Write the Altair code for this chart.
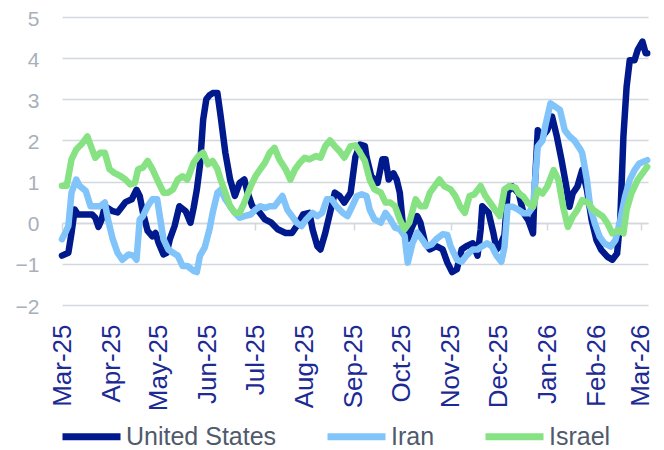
import altair as alt
import pandas as pd

series_names = ["United States", "Iran", "Israel"]
series_colors = ["#00198c", "#80c4fa", "#86e283"]

# day offsets from 2025-03-01 and values
us_days = [0,4,6,8,10,19,21,23,25,27,32,35,40,44,47,49,51,54,57,59,61,64,66,68,71,74,78,81,83,85,
           87,89,91,93,95,98,100,103,106,109,112,115,117,120,124,128,132,136,141,145,148,152,156,158,161,
           163,166,169,172,175,178,182,185,188,191,192,195,199,202,204,206,209,211,213,215,218,221,224,226,229,
           232,236,240,243,246,249,252,255,259,262,264,265,269,272,274,276,279,281,284,288,291,294,297,298,300,
           303,306,309,312,315,318,320,322,325,328,331,334,337,340,344,347,350,352,354,356,358,361,363,366,368,369]
us_vals = [-0.8,-0.73,-0.25,0.32,0.2,0.2,0.12,-0.1,0.08,0.4,0.28,0.25,0.5,0.57,0.8,0.65,0.25,-0.2,-0.33,-0.25,
           -0.5,-0.77,-0.73,-0.4,-0.08,0.4,0.28,0.0,0.36,0.8,1.4,2.5,3.0,3.1,3.15,3.15,2.6,1.7,1.05,0.65,
           0.97,1.05,0.73,0.4,0.28,0.08,0.0,-0.16,-0.25,-0.25,-0.08,0.2,0.24,-0.16,-0.57,-0.65,-0.25,0.24,0.73,0.65,
           0.49,0.73,1.6,1.9,1.86,1.6,1.13,0.97,1.54,1.54,1.05,1.2,1.05,0.73,-0.08,-0.4,-0.08,0.16,0.0,-0.5,
           -0.65,-0.57,-0.65,-0.97,-1.2,-1.13,-0.65,-0.57,-0.5,-0.8,-0.16,0.4,0.24,-0.25,-0.65,-0.57,-0.3,0.75,0.88,0.71,
           0.23,0.06,-0.26,0.8,2.25,2.1,2.25,2.58,2.1,1.52,0.88,0.39,0.71,0.88,1.28,0.8,0.06,-0.42,-0.66,-0.83,
           -0.9,-0.75,0.06,2.1,3.3,3.95,3.95,4.2,4.4,4.12,4.12]

iran_days = [0,2,4,6,9,11,15,18,24,27,29,32,35,38,42,45,47,49,51,54,57,60,62,64,67,70,73,76,79,83,
             85,87,90,93,95,98,100,103,106,109,112,115,119,122,125,128,131,134,139,142,145,148,151,154,158,
             161,164,167,170,173,177,180,183,186,189,192,194,197,201,204,207,210,213,216,218,221,224,227,230,233,
             236,240,243,245,249,252,255,259,262,265,268,271,274,277,279,281,284,288,291,294,297,300,303,305,308,
             311,314,317,320,323,327,328,331,333,336,339,342,346,349,352,355,358,361,364,369]
iran_vals = [-0.4,-0.25,-0.08,0.73,1.05,0.9,0.77,0.4,0.4,0.49,0.08,-0.4,-0.73,-0.9,-0.77,-0.8,-0.9,0.08,0.16,0.4,
             0.57,0.57,0.08,-0.4,-0.65,-0.73,-0.8,-1.05,-1.05,-1.17,-1.2,-0.8,-0.6,-0.16,0.24,0.73,0.8,0.57,0.4,0.24,
             0.12,0.16,0.2,0.32,0.4,0.36,0.4,0.4,0.65,0.32,0.16,0.0,-0.08,0.08,0.24,0.16,0.24,0.57,0.57,0.4,
             0.24,0.16,0.4,0.65,0.69,0.65,0.32,0.08,0.0,0.24,0.08,-0.12,-0.16,-0.32,-0.97,-0.5,-0.24,-0.4,-0.57,-0.53,
             -0.4,-0.28,-0.3,-0.57,-0.9,-0.95,-0.8,-0.65,-0.65,-0.57,-0.5,-0.57,-0.8,-0.95,-0.6,0.39,0.39,0.31,0.23,0.23,
             0.39,1.85,2.0,2.4,2.9,2.82,2.74,2.25,2.1,2.0,1.77,1.69,1.04,0.39,-0.02,-0.34,-0.5,-0.58,-0.42,0.06,
             0.63,1.04,1.28,1.44,1.52]

israel_days = [0,3,6,9,13,16,19,21,24,27,30,33,37,40,43,46,48,51,54,57,61,64,67,70,73,76,79,83,86,89,
               92,95,98,100,103,106,109,112,115,119,122,125,128,131,134,137,141,144,147,150,153,156,160,163,166,
               169,172,175,178,182,185,188,191,194,197,201,204,207,210,213,216,219,223,226,229,232,235,238,241,245,
               248,251,254,257,260,264,267,270,273,276,279,282,286,288,291,294,297,300,303,306,310,313,316,319,322,
               325,328,332,335,338,341,344,347,351,354,356,359,363,366,369]
israel_vals = [0.9,0.9,1.54,1.78,1.94,2.1,1.78,1.58,1.7,1.7,1.3,1.21,1.13,1.05,0.93,0.97,1.3,1.34,1.5,1.3,
               0.97,0.73,0.73,0.81,1.05,1.13,1.05,1.46,1.62,1.7,1.42,1.5,1.3,1.05,0.73,0.4,0.24,0.24,0.49,0.89,
               1.13,1.3,1.46,1.7,1.82,1.54,1.3,1.05,1.3,1.46,1.58,1.54,1.62,1.58,1.86,2.0,1.86,1.74,1.58,1.86,
               1.88,1.7,1.5,1.05,0.81,0.73,0.49,0.49,0.4,0.08,-0.16,0.0,0.57,0.4,0.4,0.73,0.89,1.05,0.89,0.81,
               0.65,0.4,0.24,0.65,0.69,0.89,0.65,0.49,0.32,0.16,0.81,0.89,0.85,0.71,0.63,0.47,0.39,0.8,0.71,0.88,
               1.28,1.04,0.39,-0.1,0.15,0.31,0.55,0.47,0.31,0.23,0.15,-0.02,-0.26,-0.18,-0.26,0.31,0.71,1.04,1.2,1.36]

y_ticks = [-2, -1, 0, 1, 2, 3, 4, 5]
month_ticks = [(2025, m) for m in range(3, 13)] + [(2026, m) for m in range(1, 4)]

start = pd.Timestamp("2025-03-01")
rows = []
for name, days, vals in [("United States", us_days, us_vals),
                         ("Iran", iran_days, iran_vals),
                         ("Israel", israel_days, israel_vals)]:
    for d, v in zip(days, vals):
        rows.append({"series": name,
                     "date": (start + pd.Timedelta(days=d)).strftime("%Y-%m-%d"),
                     "value": v})
df = pd.DataFrame(rows)

font = "Liberation Sans"
grid_col = "#d3d8df"

x_enc = alt.X(
    "date:T",
    title=None,
    scale=alt.Scale(type="utc", domain=[alt.DateTime(year=2025, month=3, date=1, utc=True),
                                        alt.DateTime(year=2026, month=3, date=5, hours=12, utc=True)]),
    axis=alt.Axis(
        values=[alt.DateTime(year=y, month=m, date=1, utc=True) for y, m in month_ticks],
        labelExpr="utcFormat(datum.value, '%b-%y')",
        labelAngle=-90, labelFontSize=26, labelFont=font, labelColor="#1c2a94",
        labelPadding=94, labelOverlap=False, labelFlush=False, labelBound=False,
        offset=-82, domain=True, domainColor=grid_col, domainWidth=1.5,
        ticks=True, tickSize=7, tickColor=grid_col, tickWidth=1.5,
        tickOpacity={"condition": {"test": "utcmonth(datum.value) % 2 == 0", "value": 1}, "value": 0},
        grid=False,
    ),
)
y_enc = alt.Y(
    "value:Q",
    title=None,
    scale=alt.Scale(domain=[-2, 5], nice=False, zero=False),
    axis=alt.Axis(values=y_ticks, grid=True, gridColor=grid_col, gridWidth=1.5,
                  domain=False, ticks=False, labelFontSize=21, labelFont=font,
                  labelColor="#a7b0bb", labelPadding=23, labelOffset=2),
)
color_enc = alt.Color(
    "series:N",
    scale=alt.Scale(domain=series_names, range=series_colors),
    legend=alt.Legend(orient="none", legendX=-3, legendY=387, direction="horizontal",
                      title=None, symbolType="stroke", symbolSize=3364, symbolStrokeWidth=7,
                      labelFontSize=25, labelFont=font, labelColor="#4f5a6b",
                      columnPadding=36, labelOffset=2, padding=0),
)

base = alt.Chart(df).mark_line(strokeWidth=6.5, strokeCap="round", strokeJoin="round").encode(
    x=x_enc, y=y_enc, color=color_enc
)
layers = [base.transform_filter(alt.datum.series == name) for name in series_names]

chart = alt.layer(*layers).properties(
    width=586, height=288,
    autosize=alt.AutoSizeParams(type="none"),
    padding={"left": 54, "top": 9, "right": 8, "bottom": 145},
).configure_view(stroke=None)

chart.save("out.html", embed_options={"renderer": "svg", "actions": False})
